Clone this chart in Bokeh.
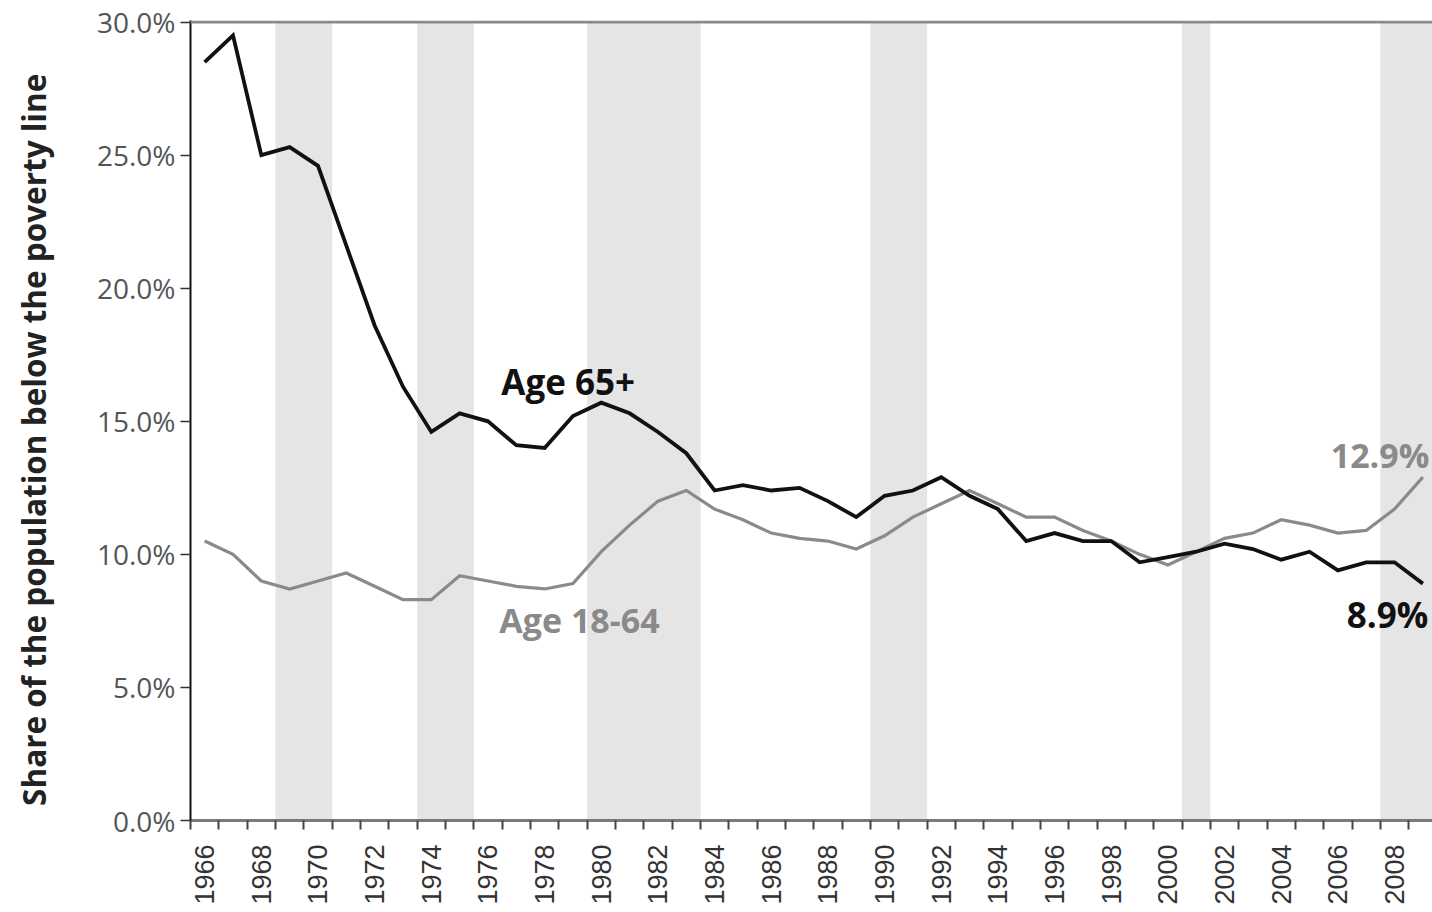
import math
from bokeh.plotting import figure
from bokeh.layouts import row
from bokeh.models import FixedTicker, Span, Label, PrintfTickFormatter, ColumnDataSource
from bokeh.core.properties import value
from bokeh.embed import file_html
from bokeh.resources import INLINE

# ---------------- data ----------------
years = list(range(1966, 2010))
age65 = [28.5, 29.5, 25.0, 25.3, 24.6, 21.6, 18.6, 16.3, 14.6, 15.3,
         15.0, 14.1, 14.0, 15.2, 15.7, 15.3, 14.6, 13.8, 12.4, 12.6,
         12.4, 12.5, 12.0, 11.4, 12.2, 12.4, 12.9, 12.2, 11.7, 10.5,
         10.8, 10.5, 10.5, 9.7, 9.9, 10.1, 10.4, 10.2, 9.8, 10.1,
         9.4, 9.7, 9.7, 8.9]
age18_64 = [10.5, 10.0, 9.0, 8.7, 9.0, 9.3, 8.8, 8.3, 8.3, 9.2,
            9.0, 8.8, 8.7, 8.9, 10.1, 11.1, 12.0, 12.4, 11.7, 11.3,
            10.8, 10.6, 10.5, 10.2, 10.7, 11.4, 11.9, 12.4, 11.9, 11.4,
            11.4, 10.9, 10.5, 10.0, 9.6, 10.1, 10.6, 10.8, 11.3, 11.1,
            10.8, 10.9, 11.7, 12.9]
# recession periods (first and last year shaded)
rec_first = [1969, 1974, 1980, 1990, 2001, 2008]
rec_last = [1970, 1975, 1983, 1991, 2001, 2009]
label_years = list(range(1966, 2010, 2))
y_ticks = [0, 5, 10, 15, 20, 25, 30]
y_title = "Share of the population below the poverty line"

H = 912
LEFT_W = 60

# ---------------- left strip with the axis title ----------------
t = figure(width=LEFT_W, height=H, output_backend="svg", toolbar_location=None,
           x_range=(0, LEFT_W), y_range=(0, H), min_border=0,
           x_axis_location=None, y_axis_location=None)
t.outline_line_color = None
t.grid.visible = False
t.text(x=[33], y=[434], text=[y_title], angle=math.pi / 2,
       text_align="center", text_baseline="middle",
       text_font=value("Open Sans"), text_font_style="bold",
       text_font_size="31.5px", text_color="#222222")

# ---------------- main figure ----------------
p = figure(width=1432 - LEFT_W, height=H, output_backend="svg", toolbar_location=None,
           x_range=(1965.5, 2009.34), y_range=(0, 30.06),
           min_border_left=190 - LEFT_W, min_border_right=0, min_border_top=20,
           min_border_bottom=92)
p.outline_line_color = None
p.xgrid.visible = False
p.ygrid.visible = False
p.background_fill_color = "white"

rec_src = ColumnDataSource(dict(left=[a - 0.5 for a in rec_first],
                                right=[b + 0.5 for b in rec_last],
                                bottom=[0] * len(rec_first),
                                top=[30] * len(rec_first)))
p.quad(left="left", right="right", bottom="bottom", top="top", source=rec_src,
       fill_color="#e5e5e5", line_color=None)

p.add_layout(Span(location=30, dimension="width", line_color="#8a8a8a", line_width=3))

p.line(years, age18_64, line_color="#8a8a8a", line_width=3.2, line_join="miter")
p.line(years, age65, line_color="#111111", line_width=3.8, line_join="miter")

# ---------------- axes ----------------
xa = p.xaxis[0]
xa.ticker = FixedTicker(ticks=label_years, minor_ticks=[y - 0.5 for y in years])
xa.major_tick_out = 0
xa.major_tick_in = 0
xa.minor_tick_out = 9
xa.minor_tick_in = 0
xa.minor_tick_line_color = "#444444"
xa.minor_tick_line_width = 2
xa.axis_line_color = "#7a7a7a"
xa.axis_line_width = 3
xa.major_label_orientation = math.pi / 2
xa.major_label_standoff = 15
xa.major_label_text_font = "Liberation Sans"
xa.major_label_text_font_size = "27px"
xa.major_label_text_color = "#333333"

ya = p.yaxis[0]
ya.ticker = FixedTicker(ticks=y_ticks)
ya.formatter = PrintfTickFormatter(format="%.1f%%")
ya.major_tick_out = 10
ya.major_tick_in = 0
ya.minor_tick_out = 0
ya.minor_tick_in = 0
ya.major_tick_line_color = "#333333"
ya.major_tick_line_width = 1.5
ya.axis_line_color = "#111111"
ya.axis_line_width = 2
ya.major_label_standoff = 5
ya.major_label_text_font = "Open Sans"
ya.major_label_text_font_size = "28px"
ya.major_label_text_color = "#555555"

# ---------------- texts ----------------
p.add_layout(Label(x=1976.47, y=16.5, text="Age 65+", text_align="left",
                   text_baseline="alphabetic", text_font="Open Sans",
                   text_font_style="bold", text_font_size="35px", text_color="#111111"))
p.add_layout(Label(x=1976.40, y=7.55, text="Age 18-64", text_align="left",
                   text_baseline="alphabetic", text_font="Open Sans",
                   text_font_style="bold", text_font_size="34px", text_color="#8a8a8a"))
p.add_layout(Label(x=2009.23, y=13.75, text="12.9%", text_align="right",
                   text_baseline="alphabetic", text_font="Open Sans",
                   text_font_style="bold", text_font_size="34px", text_color="#8a8a8a"))
p.add_layout(Label(x=2009.19, y=7.75, text="8.9%", text_align="right",
                   text_baseline="alphabetic", text_font="Open Sans",
                   text_font_style="bold", text_font_size="35px", text_color="#111111"))

layout = row(t, p, spacing=0)
open("out.html", "w").write(file_html(layout, INLINE))
